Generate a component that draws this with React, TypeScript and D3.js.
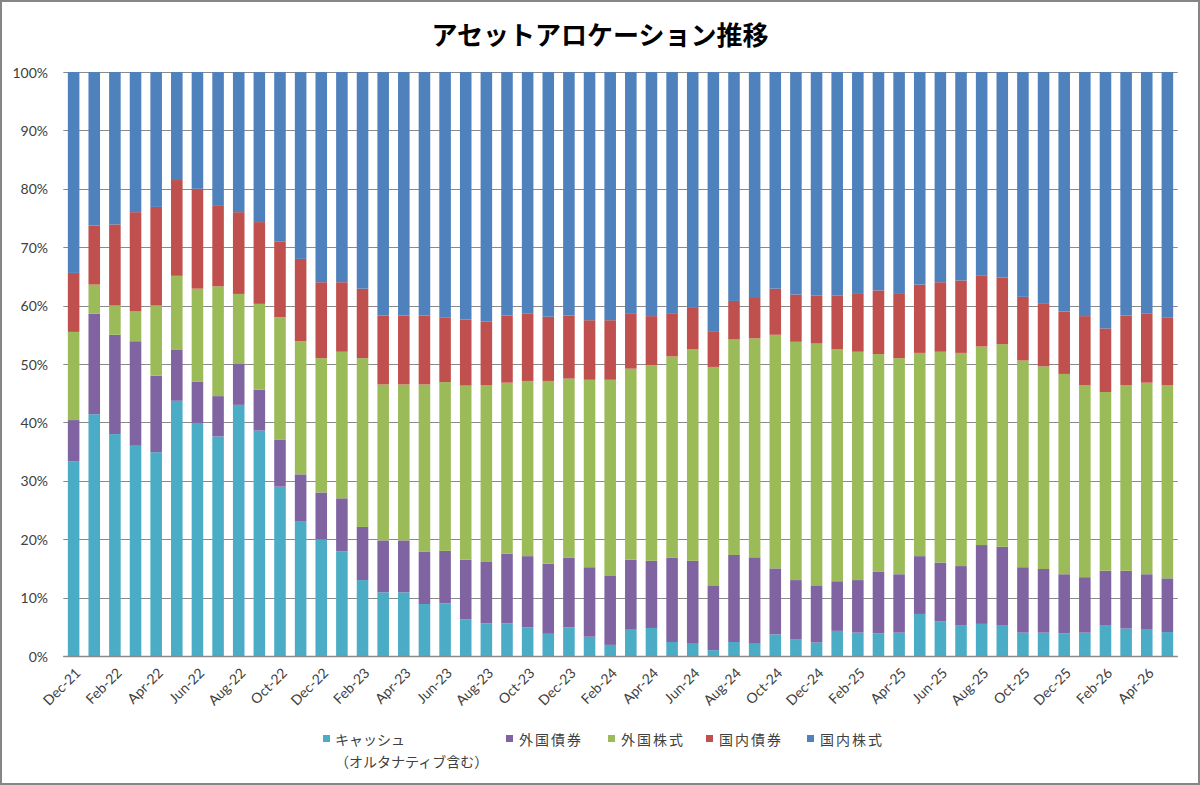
import React, { useRef, useEffect } from "react";
import * as d3 from "d3";

// months shown on the x axis (one bar per month, label on every other bar)
const months = [
  "Dec-21", "Jan-22", "Feb-22", "Mar-22", "Apr-22", "May-22", "Jun-22", "Jul-22",
  "Aug-22", "Sep-22", "Oct-22", "Nov-22", "Dec-22", "Jan-23", "Feb-23", "Mar-23",
  "Apr-23", "May-23", "Jun-23", "Jul-23", "Aug-23", "Sep-23", "Oct-23", "Nov-23",
  "Dec-23", "Jan-24", "Feb-24", "Mar-24", "Apr-24", "May-24", "Jun-24", "Jul-24",
  "Aug-24", "Sep-24", "Oct-24", "Nov-24", "Dec-24", "Jan-25", "Feb-25", "Mar-25",
  "Apr-25", "May-25", "Jun-25", "Jul-25", "Aug-25", "Sep-25", "Oct-25", "Nov-25",
  "Dec-25", "Jan-26", "Feb-26", "Mar-26", "Apr-26", "May-26",
];

// % of portfolio
const cash = [
  33.3, 41.4, 38.0, 36.0, 34.9, 43.7, 39.9, 37.6, 43.0, 38.6, 29.0, 23.0, 20.0, 17.9,
  13.0, 10.9, 10.9, 8.9, 9.0, 6.3, 5.6, 5.6, 4.9, 3.8, 4.9, 3.3, 1.9, 4.5,
  4.8, 2.4, 2.1, 1.0, 2.4, 2.1, 3.7, 2.8, 2.3, 4.3, 4.0, 3.9, 4.0, 7.2,
  5.9, 5.2, 5.5, 5.3, 4.0, 4.0, 3.9, 4.0, 5.3, 4.7, 4.5, 4.1,
];
const foreignBonds = [
  7.1, 17.2, 17.0, 17.9, 13.1, 8.8, 7.1, 6.9, 7.0, 7.0, 8.0, 8.1, 8.0, 9.1,
  9.1, 8.9, 8.9, 9.0, 9.0, 10.2, 10.6, 11.9, 12.2, 12.0, 11.9, 11.9, 11.8, 12.0,
  11.5, 14.4, 14.2, 11.1, 14.9, 14.8, 11.3, 10.2, 9.8, 8.5, 9.0, 10.5, 10.0, 9.9,
  10.1, 10.2, 13.5, 13.4, 11.2, 10.9, 10.1, 9.5, 9.3, 9.9, 9.5, 9.2,
];
const foreignStocks = [
  15.1, 5.0, 5.0, 5.1, 12.0, 12.6, 15.9, 18.8, 12.0, 14.7, 21.0, 22.8, 23.0, 25.1,
  28.9, 26.7, 26.7, 28.6, 28.9, 29.8, 30.2, 29.3, 30.0, 31.3, 30.7, 32.1, 33.6, 32.7,
  33.5, 34.5, 36.2, 37.4, 36.9, 37.5, 40.0, 40.8, 41.4, 39.7, 39.1, 37.3, 37.0, 34.8,
  36.1, 36.5, 34.0, 34.7, 35.4, 34.7, 34.3, 32.9, 30.6, 31.8, 32.8, 33.1,
];
const domesticBonds = [
  10.1, 10.1, 13.9, 17.0, 16.9, 16.4, 17.1, 13.9, 14.0, 14.0, 13.0, 14.1, 13.0, 11.9,
  11.9, 11.8, 11.8, 11.8, 11.1, 11.3, 10.9, 11.5, 11.5, 11.0, 10.8, 10.2, 10.2, 9.5,
  8.4, 7.4, 7.1, 6.0, 6.6, 6.9, 7.9, 8.1, 8.2, 9.2, 9.9, 10.9, 11.0, 11.7,
  11.9, 12.4, 12.2, 11.4, 10.9, 10.7, 10.7, 11.8, 10.9, 11.9, 11.8, 11.6,
];
const domesticStocks = [
  34.4, 26.3, 26.1, 24.0, 23.1, 18.5, 20.0, 22.8, 24.0, 25.7, 29.0, 32.0, 36.0, 36.0,
  37.1, 41.7, 41.7, 41.7, 42.0, 42.4, 42.7, 41.7, 41.4, 41.9, 41.7, 42.5, 42.5, 41.3,
  41.8, 41.3, 40.4, 44.5, 39.2, 38.7, 37.1, 38.1, 38.3, 38.3, 38.0, 37.4, 38.0, 36.4,
  36.0, 35.7, 34.8, 35.2, 38.5, 39.7, 41.0, 41.8, 43.9, 41.7, 41.4, 42.0,
];

const seriesKeys = ["cash", "foreignBonds", "foreignStocks", "domesticBonds", "domesticStocks"];
const legendLabels = [
  ["キャッシュ", "（オルタナティブ含む）"],
  ["外国債券"],
  ["外国株式"],
  ["国内債券"],
  ["国内株式"],
];
const yTicks = [0, 0.1, 0.2, 0.3, 0.4, 0.5, 0.6, 0.7, 0.8, 0.9, 1];
const title = "アセットアロケーション推移";

const colors = ["#4BACC6", "#8064A2", "#9BBB59", "#C0504D", "#4F81BD"];
const legendX = [323, 506, 608, 706, 807];

const width = 1200;
const height = 785;
const plotLeft = 63.3;
const plotRight = 1177.7;
const plotTop = 72;
const plotBottom = 656;

const App: React.FC = () => {
  const ref = useRef<SVGSVGElement>(null);

  useEffect(() => {
    if (!ref.current) return;
    const svg = d3.select(ref.current);
    svg.selectAll("*").remove();

    const table = months.map((m, i) => ({
      month: m,
      cash: cash[i],
      foreignBonds: foreignBonds[i],
      foreignStocks: foreignStocks[i],
      domesticBonds: domesticBonds[i],
      domesticStocks: domesticStocks[i],
    }));

    const stacked = d3
      .stack<any>()
      .keys(seriesKeys)
      .offset(d3.stackOffsetExpand)(table);

    const x = d3
      .scaleBand()
      .domain(months)
      .range([plotLeft, plotRight])
      .paddingInner(0.44)
      .paddingOuter(0.22);

    const y = d3.scaleLinear().domain([0, 1]).range([plotBottom, plotTop]);

    // outer border
    svg
      .append("rect")
      .attr("x", 1)
      .attr("y", 1)
      .attr("width", width - 2)
      .attr("height", height - 2)
      .attr("fill", "#fff")
      .attr("stroke", "#868686")
      .attr("stroke-width", 2);

    // title
    svg
      .append("text")
      .attr("x", width / 2)
      .attr("y", 33)
      .attr("text-anchor", "middle")
      .attr("dominant-baseline", "central")
      .attr("font-family", "'Noto Sans CJK JP', sans-serif")
      .attr("font-weight", "bold")
      .attr("font-size", 26)
      .attr("fill", "#000")
      .text(title);

    // gridlines
    svg
      .append("g")
      .selectAll("line")
      .data(yTicks)
      .enter()
      .append("line")
      .attr("x1", plotLeft)
      .attr("x2", plotRight)
      .attr("y1", (d) => Math.round(y(d)) + 0.5)
      .attr("y2", (d) => Math.round(y(d)) + 0.5)
      .attr("stroke", "#8a8a8a")
      .attr("stroke-width", 1);

    // y labels
    svg
      .append("g")
      .selectAll("text")
      .data(yTicks)
      .enter()
      .append("text")
      .attr("x", 48)
      .attr("y", (d) => y(d))
      .attr("text-anchor", "end")
      .attr("dominant-baseline", "central")
      .attr("font-family", "Lato, sans-serif")
      .attr("font-size", 14)
      .attr("fill", "#404040")
      .text((d) => d3.format(".0%")(d));

    // bars
    svg
      .append("g")
      .selectAll("g")
      .data(stacked)
      .enter()
      .append("g")
      .attr("fill", (_d, i) => colors[i])
      .selectAll("rect")
      .data((d) => d)
      .enter()
      .append("rect")
      .attr("x", (d: any) => x(d.data.month) as number)
      .attr("width", x.bandwidth())
      .attr("y", (d) => y(d[1]))
      .attr("height", (d) => y(d[0]) - y(d[1]));

    // x axis line
    svg
      .append("line")
      .attr("x1", plotLeft)
      .attr("x2", plotRight)
      .attr("y1", plotBottom + 0.5)
      .attr("y2", plotBottom + 0.5)
      .attr("stroke", "#8a8a8a")
      .attr("stroke-width", 1.5);

    // x labels
    svg
      .append("g")
      .selectAll("text")
      .data(months.filter((_m, i) => i % 2 === 0))
      .enter()
      .append("text")
      .attr(
        "transform",
        (d) =>
          "translate(" +
          ((x(d) as number) + x.bandwidth() / 2 + 4) +
          "," +
          (plotBottom + 14) +
          ") rotate(-45)"
      )
      .attr("text-anchor", "end")
      .attr("dominant-baseline", "central")
      .attr("font-family", "Lato, sans-serif")
      .attr("font-size", 14)
      .attr("fill", "#404040")
      .text((d) => d);

    // legend
    const legend = svg.append("g");
    legendLabels.forEach((lines, i) => {
      legend
        .append("rect")
        .attr("x", legendX[i])
        .attr("y", 735)
        .attr("width", 7)
        .attr("height", 7)
        .attr("fill", colors[i]);
      lines.forEach((line, j) => {
        legend
          .append("text")
          .attr("x", legendX[i] + (i === 0 ? 12 : 13))
          .attr("y", 739 + j * 22)
          .attr("dominant-baseline", "central")
          .attr("font-family", "'Noto Sans CJK JP', sans-serif")
          .attr("font-size", 14)
          .attr("letter-spacing", i === 0 ? 0 : 2)
          .attr("fill", "#404040")
          .text(line);
      });
    });
  }, []);

  return (
    <div>
      <svg
        ref={ref}
        width={width}
        height={height}
        style={{ position: "absolute", left: 0, top: 0 }}
      />
    </div>
  );
};

export default App;
